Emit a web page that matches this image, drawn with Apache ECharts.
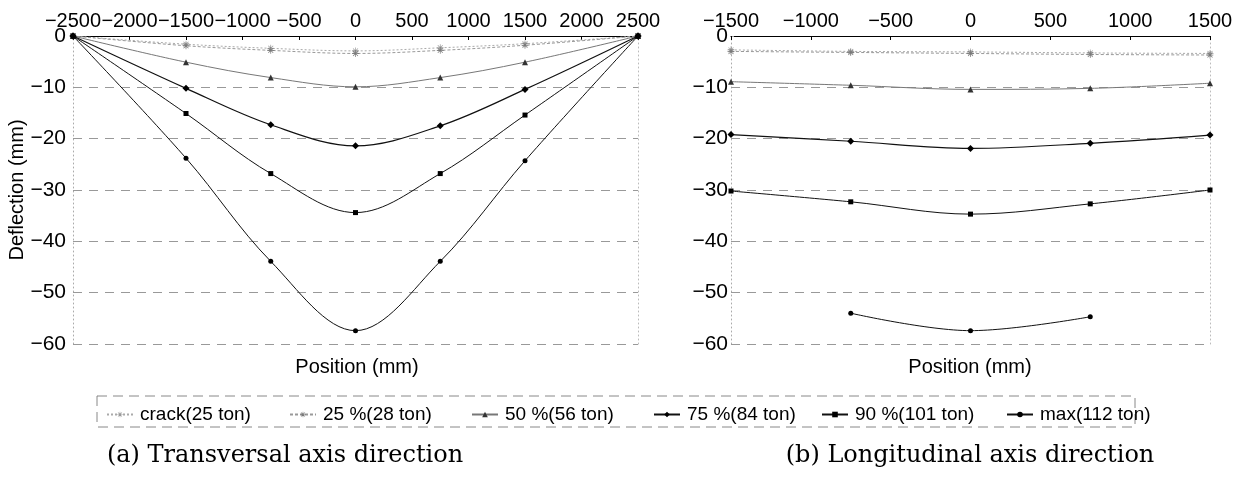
<!DOCTYPE html>
<html>
<head>
<meta charset="utf-8">
<script src="https://cdn.jsdelivr.net/npm/echarts@6/dist/echarts.min.js"></script>
<style>html,body{margin:0;padding:0;background:#fff}#c{width:1239px;height:479px}</style>
</head>
<body>
<div id="c"></div>
<script>
// ---- data ----
const seriesNames = ['crack(25 ton)', '25 %(28 ton)', '50 %(56 ton)', '75 %(84 ton)', '90 %(101 ton)', 'max(112 ton)'];
// (a) Transversal axis direction
const posT   = [-2500, -1500, -750, 0, 750, 1500, 2500];
const crackT = [0, -1.6, -2.4, -2.9, -2.3, -1.5, 0];
const p25T   = [0, -1.9, -2.8, -3.4, -2.8, -1.8, 0];
const p50T   = [0, -5.1, -8.1, -9.9, -8.1, -5.1, 0];
const p75T   = [0, -10.2, -17.3, -21.4, -17.5, -10.4, 0];
const p90T   = [0, -15.1, -26.8, -34.4, -26.8, -15.4, 0];
const maxT   = [0, -23.8, -43.9, -57.4, -43.9, -24.3, 0];
// (b) Longitudinal axis direction
const posL   = [-1500, -750, 0, 750, 1500];
const crackL = [-2.7, -3.0, -3.1, -3.3, -3.4];
const p25L   = [-3.0, -3.2, -3.4, -3.6, -3.7];
const p50L   = [-8.9, -9.6, -10.4, -10.2, -9.2];
const p75L   = [-19.2, -20.5, -21.9, -20.9, -19.3];
const p90L   = [-30.2, -32.3, -34.7, -32.7, -30.0];
const maxL   = [null, -54.0, -57.4, -54.7, null];
const xTicksT = [-2500, 2500, 500];
const xTicksL = [-1500, 1500, 500];
const yTicks = [-60, 0, 10];

const valsT = [crackT, p25T, p50T, p75T, p90T, maxT];
const valsL = [crackL, p25L, p50L, p75L, p90L, maxL];

const SANS = 'Liberation Sans, Arial, sans-serif';
const SERIF = 'DejaVu Serif, Liberation Serif, serif';
const minus = v => String(v).replace('-', '\u2212');
const ast = 'path://M9,0h2v20h-2z M0,9h20v2h-20z M2.2,3.6l1.4,-1.4l14.2,14.2l-1.4,1.4z M16.4,2.2l1.4,1.4l-14.2,14.2l-1.4,-1.4z';

const styles = [
  {symbol: ast, size: 7, color: '#999', line: {color: '#aaa', width: 1, type: [2, 2]}},
  {symbol: ast, size: 7, color: '#777', line: {color: '#999', width: 1, type: [3, 2]}},
  {symbol: 'triangle', size: 6, color: '#333', line: {color: '#777', width: 1, type: 'solid'}},
  {symbol: 'diamond', size: 7, color: '#000', line: {color: '#111', width: 1.2, type: 'solid'}},
  {symbol: 'rect', size: 5, color: '#000', line: {color: '#111', width: 1, type: 'solid'}},
  {symbol: 'circle', size: 5, color: '#000', line: {color: '#111', width: 1, type: 'solid'}}
];

function mk(xs, ys) {
  const d = [];
  for (let i = 0; i < xs.length; i++) if (ys[i] !== null) d.push([xs[i], ys[i]]);
  return d;
}

const series = [];
[[posT, valsT, 0], [posL, valsL, 1]].forEach(([xs, vals, g]) => {
  vals.forEach((ys, i) => {
    const s = styles[i];
    series.push({
      name: seriesNames[i], type: 'line', xAxisIndex: g, yAxisIndex: g * 2,
      data: mk(xs, ys), smooth: 0.35, symbol: s.symbol, symbolSize: s.size,
      itemStyle: {color: s.color}, lineStyle: s.line, z: 3 + i
    });
  });
});

function xAxis(g, t) {
  return {
    type: 'value', gridIndex: g, position: 'top', min: t[0], max: t[1], interval: t[2],
    axisLine: {onZero: false, lineStyle: {color: '#000', width: 1.2}},
    axisTick: {inside: true, length: 4, lineStyle: {color: '#000'}},
    axisLabel: {color: '#000', fontSize: 20, fontFamily: SANS, margin: 5, formatter: minus,
                showMinLabel: true, showMaxLabel: true, hideOverlap: false, interval: 0},
    splitLine: {show: false}
  };
}
function yAxes(g, margin) {
  return [{
    type: 'value', gridIndex: g, min: yTicks[0], max: yTicks[1], interval: yTicks[2],
    axisLine: {show: true, onZero: false, lineStyle: {color: '#aaa', type: [1, 3]}},
    axisTick: {show: true, inside: true, length: 3, lineStyle: {color: '#999'}},
    axisLabel: {color: '#000', fontSize: 21, fontFamily: SANS, margin: margin, formatter: minus},
    splitLine: {show: true, lineStyle: {color: '#999', type: [9, 7], width: 1}}
  }, {
    type: 'value', gridIndex: g, position: 'right', min: yTicks[0], max: yTicks[1], interval: yTicks[2],
    axisLine: {show: true, onZero: false, lineStyle: {color: '#bbb', type: [1, 3]}},
    axisTick: {show: false}, axisLabel: {show: false}, splitLine: {show: false}
  }];
}

const legendLefts = [101, 284, 466, 648, 816, 1001];
const legends = seriesNames.map((n, i) => ({
  data: [n], left: legendLefts[i], top: 400, itemWidth: 26, itemHeight: 7, itemGap: 0,
  textStyle: {color: '#000', fontSize: 19, fontFamily: SANS, padding: [0, 0, 0, 2]}
}));

const chart = echarts.init(document.getElementById('c'), null, {renderer: 'canvas'});
chart.setOption({
  animation: false,
  backgroundColor: '#fff',
  grid: [
    {left: 73, top: 36, width: 565, height: 308},
    {left: 731, top: 36, width: 479, height: 308}
  ],
  xAxis: [xAxis(0, xTicksT), xAxis(1, xTicksL)],
  yAxis: [...yAxes(0, 7), ...yAxes(1, 3)],
  legend: legends,
  series: series,
  graphic: [
    {type: 'text', x: 17, y: 190, rotation: Math.PI / 2,
     style: {text: 'Deflection (mm)', fill: '#000', font: '20px ' + SANS, align: 'center', verticalAlign: 'middle'}},
    {type: 'text', x: 357, y: 367,
     style: {text: 'Position (mm)', fill: '#000', font: '20px ' + SANS, align: 'center', verticalAlign: 'middle'}},
    {type: 'text', x: 970, y: 367,
     style: {text: 'Position (mm)', fill: '#000', font: '20px ' + SANS, align: 'center', verticalAlign: 'middle'}},
    {type: 'rect', shape: {x: 97, y: 396, width: 1038, height: 31},
     style: {fill: 'none', stroke: '#888', lineWidth: 1, lineDash: [10, 6]}},
    {type: 'text', x: 285, y: 456,
     style: {text: '(a) Transversal axis direction', fill: '#000', font: '24px ' + SERIF, align: 'center', verticalAlign: 'middle'}},
    {type: 'text', x: 970, y: 456,
     style: {text: '(b) Longitudinal axis direction', fill: '#000', font: '24px ' + SERIF, align: 'center', verticalAlign: 'middle'}}
  ]
});
</script>
</body>
</html>
